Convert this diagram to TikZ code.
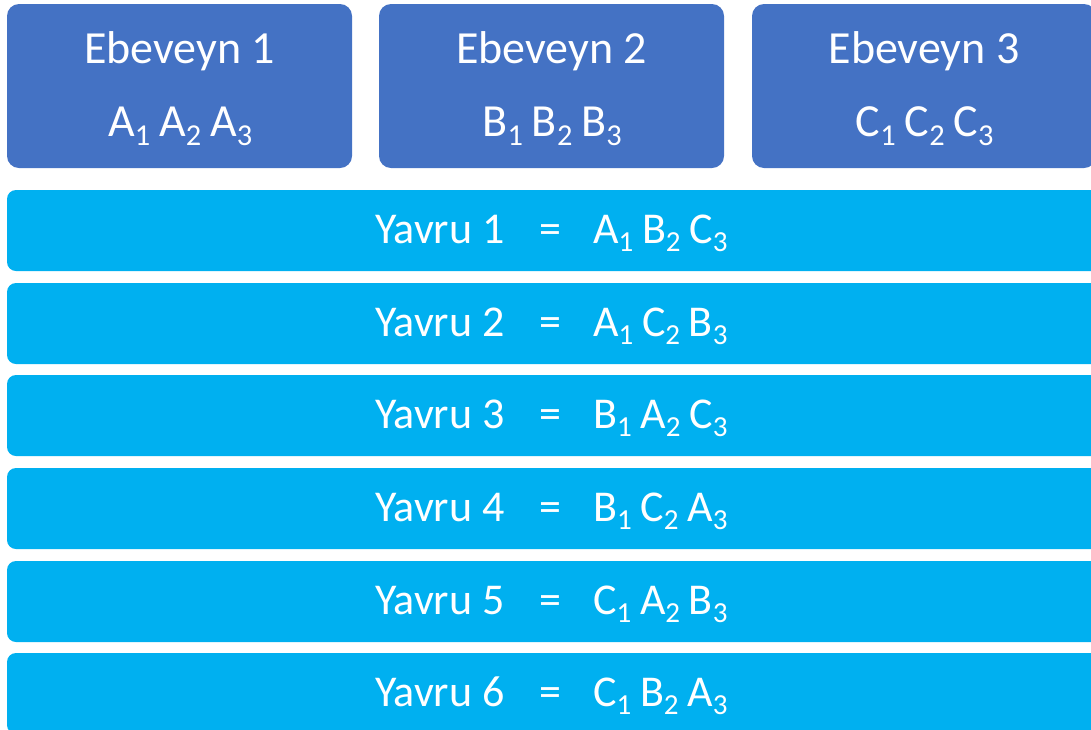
\documentclass[tikz,border=0pt]{standalone}
\usepackage{fontspec}
\setmainfont{Carlito}
\definecolor{parentblue}{HTML}{4472C4}
\definecolor{childblue}{HTML}{00B0F0}
% lowered, reduced index digit
\newcommand\lo[1]{\raisebox{-0.2em}{\scalebox{0.66}{#1}}\kern-0.03em\relax}
\begin{document}
\begin{tikzpicture}[x=1pt,y=-1pt,
  parentbox/.style={fill=parentblue,draw=none,rounded corners=12pt},
  childbar/.style={fill=childblue,draw=none,rounded corners=9pt},
  txt/.style={text=white,inner sep=0pt,font=\fontsize{44}{50}\selectfont},
  ptxt/.style={txt,font=\fontsize{46}{52}\selectfont},
]
\useasboundingbox (0,0) rectangle (1091,729);
\clip (0,0) rectangle (1091,729);

% parent boxes
\foreach \i/\l/\r/\g in {1/7/352/A,2/379/724/B,3/752/1096/C}{
  \fill[parentbox] (\l,4) rectangle (\r,168);
  \node[ptxt,anchor=base] (p\i) at ({(\l+\r)/2},63) {Ebeveyn \i};
  \node[ptxt,anchor=base] (g\i) at ({(\l+\r)/2},136) {\g\lo{1} \g\lo{2} \g\lo{3}};
}

% offspring bars
\foreach \k/\t/\e in {1/190/{A\lo{1} B\lo{2} C\lo{3}},
                      2/283/{A\lo{1} C\lo{2} B\lo{3}},
                      3/375/{B\lo{1} A\lo{2} C\lo{3}},
                      4/468/{B\lo{1} C\lo{2} A\lo{3}},
                      5/561/{C\lo{1} A\lo{2} B\lo{3}},
                      6/653/{C\lo{1} B\lo{2} A\lo{3}}}{
  \fill[childbar] (7,\t) rectangle (1110,\t+81);
  \node[txt,anchor=base west] (y\k) at (375,\t+53) {Yavru \k};
  \node[txt,anchor=base] (q\k) at (550,\t+53) {=};
  \node[txt,anchor=base west] (c\k) at (593,\t+53) {\e};
}
\end{tikzpicture}
\end{document}
